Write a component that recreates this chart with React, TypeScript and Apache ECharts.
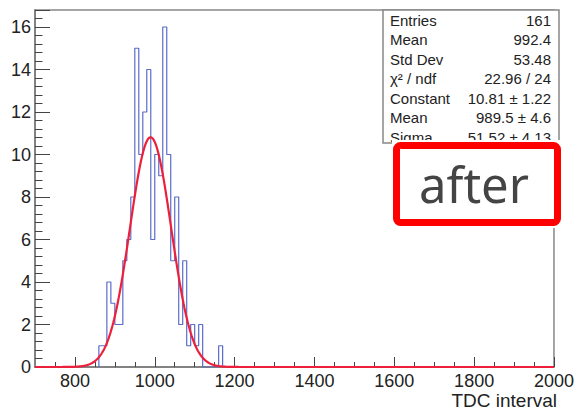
import React, { useEffect, useRef } from "react";
import * as echarts from "echarts";

// Histogram: bin lower edge of first bin, bin width, counts per bin
const binStart = 860;
const binWidth = 10;
const binCounts = [1, 1, 4, 3, 2, 2, 5, 6, 8, 15, 10, 12, 14, 6, 10, 9, 16, 10, 5, 8, 2, 5, 1, 2, 1, 2, 0, 0, 0, 0, 1];

// Gaussian fit parameters
const fitConstant = 10.81;
const fitMean = 989.5;
const fitSigma = 51.52;

// Axis ticks
const xMajorTicks = [800, 1000, 1200, 1400, 1600, 1800, 2000];
const xMinorTicks = [750, 800, 850, 900, 950, 1000, 1050, 1100, 1150, 1200, 1250, 1300, 1350, 1400, 1450, 1500, 1550, 1600, 1650, 1700, 1750, 1800, 1850, 1900, 1950, 2000];

// Stats box
const statLabels = ["Entries", "Mean", "Std Dev", "χ² / ndf", "Constant", "Mean", "Sigma"];
const statValues = ["161", "992.4", "53.48", "22.96 / 24", "10.81 ± 1.22", "989.5 ± 4.6", "51.52 ± 4.13"];

const xTitle = "TDC interval";
const stampText = "after";

export default function App() {
  const ref = useRef<HTMLDivElement>(null);
  useEffect(() => {
    if (!ref.current) return;
    const chart = echarts.init(ref.current, undefined, { renderer: "svg" });

    const histPts: number[][] = [[binStart, 0]];
    binCounts.forEach((c, i) => {
      const lo = binStart + i * binWidth;
      histPts.push([lo, c]);
      histPts.push([lo + binWidth, c]);
    });
    histPts.push([binStart + binCounts.length * binWidth, 0]);

    const gaus: number[][] = [];
    for (let x = 700; x <= 2000; x += 2) {
      const z = (x - fitMean) / fitSigma;
      gaus.push([x, fitConstant * Math.exp(-0.5 * z * z)]);
    }

    const font = "'Liberation Sans', Arial, Helvetica, sans-serif";
    const graphic: any[] = [
      {
        type: "rect",
        z: 100,
        shape: { x: 383, y: 10, width: 176, height: 133 },
        style: { fill: "#fff", stroke: "#888", lineWidth: 1.5 },
      },
    ];
    statLabels.forEach((l, i) => {
      const y = 20 + i * 19.5;
      graphic.push({
        type: "text",
        z: 101,
        x: 390,
        y,
        style: { text: l, font: `15px ${font}`, fill: "#222", textVerticalAlign: "middle", textAlign: "left" },
      });
      graphic.push({
        type: "text",
        z: 101,
        x: 551,
        y,
        style: { text: statValues[i], font: `15px ${font}`, fill: "#222", textVerticalAlign: "middle", textAlign: "right" },
      });
    });
    graphic.push({
      type: "rect",
      z: 102,
      shape: { x: 392, y: 140, width: 172, height: 88 },
      style: { fill: "#fff", stroke: null },
    });
    graphic.push({
      type: "rect",
      z: 103,
      shape: { x: 396.5, y: 145.5, width: 161, height: 77, r: 4 },
      style: { fill: "#fff", stroke: "#ff0000", lineWidth: 7 },
    });
    graphic.push({
      type: "text",
      z: 104,
      x: 474,
      y: 184,
      style: {
        text: stampText,
        font: `49px 'Noto Sans', 'Open Sans', sans-serif`,
        fill: "#444",
        textAlign: "center",
        textVerticalAlign: "middle",
      },
    });
    graphic.push({
      type: "text",
      z: 50,
      x: 557,
      y: 400,
      style: { text: xTitle, font: `19px ${font}`, fill: "#222", textAlign: "right", textVerticalAlign: "middle" },
    });

    chart.setOption({
      animation: false,
      backgroundColor: "#fff",
      grid: {
        left: 35,
        top: 10,
        width: 522,
        height: 357,
        show: true,
        borderColor: "#888",
        borderWidth: 1.5,
        backgroundColor: "transparent",
      },
      xAxis: [
        {
          type: "value",
          min: 700,
          max: 2000,
          axisLine: { show: true, lineStyle: { color: "#777", width: 1.5 } },
          axisTick: { show: true, inside: true, length: 10, customValues: xMajorTicks, lineStyle: { color: "#444" } },
          axisLabel: {
            show: true,
            customValues: xMajorTicks,
            fontSize: 18,
            fontFamily: font,
            color: "#222",
            margin: 5,
            formatter: (v: number) => String(v),
          },
          splitLine: { show: false },
        },
        {
          type: "value",
          min: 700,
          max: 2000,
          position: "bottom",
          axisLine: { show: false },
          axisTick: { show: true, inside: true, length: 5, customValues: xMinorTicks, lineStyle: { color: "#444" } },
          axisLabel: { show: false },
          splitLine: { show: false },
        },
      ],
      yAxis: {
        type: "value",
        min: 0,
        max: 16.8,
        interval: 2,
        axisLine: { show: true, lineStyle: { color: "#777", width: 1.5 } },
        axisTick: { show: true, inside: true, length: 15, lineStyle: { color: "#444" } },
        minorTick: { show: true, splitNumber: 5, length: 7.5, lineStyle: { color: "#444" } },
        axisLabel: {
          fontSize: 18,
          fontFamily: font,
          color: "#222",
          margin: 4,
          showMaxLabel: false,
          formatter: (v: number) => (Math.abs(v % 2) < 1e-6 ? String(v) : ""),
        },
        splitLine: { show: false },
      },
      series: [
        {
          type: "line",
          data: histPts,
          symbol: "none",
          lineStyle: { color: "#5a6cc8", width: 1.2 },
          z: 2,
        },
        {
          type: "line",
          data: gaus,
          symbol: "none",
          lineStyle: { color: "#ee1f3a", width: 2.2 },
          clip: false,
          z: 3,
        },
      ],
      graphic,
    });
    return () => chart.dispose();
  }, []);
  return <div ref={ref} style={{ position: "fixed", left: 0, top: 0, width: 577, height: 409 }} />;
}
